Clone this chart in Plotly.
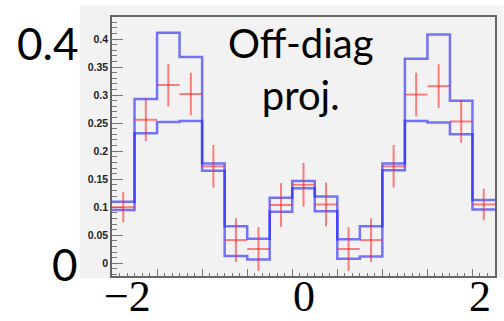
import plotly.graph_objects as go

# ---- data ----
n_bins = 17
x_min, x_max = -2.17, 2.17
band_upper = [0.110, 0.293, 0.411, 0.368, 0.178, 0.066, 0.044, 0.117, 0.147,
              0.119, 0.043, 0.066, 0.178, 0.365, 0.408, 0.290, 0.113]
band_lower = [0.095, 0.232, 0.252, 0.254, 0.165, 0.013, 0.007, 0.092, 0.134,
              0.093, 0.008, 0.012, 0.166, 0.254, 0.251, 0.230, 0.096]
data_vals = [0.100, 0.256, 0.318, 0.302, 0.173, 0.0415, 0.0255, 0.104, 0.140,
             0.105, 0.0255, 0.0415, 0.173, 0.301, 0.316, 0.253, 0.105]
data_errs = [0.027, 0.038, 0.038, 0.038, 0.038, 0.039, 0.039, 0.039, 0.039,
             0.039, 0.039, 0.039, 0.038, 0.039, 0.039, 0.038, 0.028]
big_x_ticks = [-2, 0, 2]
big_x_text = ["\u22122", "0", "2"]
big_y_ticks = [0.4, 0]
big_y_text = ["0.4", "0"]
title_text = "Off-diag<br>proj."

bw = (x_max - x_min) / n_bins
edges = [x_min + i * bw for i in range(n_bins + 1)]
centers = [x_min + (i + 0.5) * bw for i in range(n_bins)]

W, H = 504, 321
L, R, T, B = 111.5, 7.3, 16.7, 45
pw, ph = W - L - R, H - T - B

blue = "rgba(30,30,255,0.6)"
red = "rgba(255,30,30,0.55)"
gray_bg = "#f2f2f2"

fig = go.Figure()
for band in (band_upper, band_lower):
    fig.add_trace(go.Scatter(
        x=edges, y=band + [band[-1]], mode="lines", line_shape="hv",
        line=dict(color=blue, width=2.5), hoverinfo="skip", showlegend=False))

fig.add_trace(go.Scatter(
    x=centers, y=data_vals, mode="markers",
    marker=dict(size=1, color="rgba(0,0,0,0)"),
    error_y=dict(type="data", array=data_errs, width=0, thickness=2, color=red),
    error_x=dict(type="data", array=[bw / 2] * n_bins, width=0, thickness=2, color=red),
    showlegend=False))


def px_to_paper_x(px):
    return (px - L) / pw


def px_to_paper_y(py):
    return (H - B - py) / ph


# gray ROOT canvas panel
fig.add_shape(type="rect", xref="paper", yref="paper",
              x0=px_to_paper_x(79), x1=px_to_paper_x(505),
              y0=px_to_paper_y(278), y1=px_to_paper_y(5),
              fillcolor=gray_bg, line_width=0, layer="below")

annotations = []
for v, t in zip(big_x_ticks, big_x_text):
    annotations.append(dict(x=v, xref="x", y=px_to_paper_y(296.5), yref="paper",
                            text=t, showarrow=False, xanchor="center", yanchor="middle",
                            font=dict(family="Liberation Serif", size=44, color="black")))
for v, t, sh in zip(big_y_ticks, big_y_text, [-4, -1]):
    annotations.append(dict(x=px_to_paper_x(79), xref="paper", y=v, yref="y", yshift=sh,
                            text=t, showarrow=False, xanchor="right", yanchor="middle",
                            font=dict(family="Lato", size=44, color="black")))
annotations.append(dict(x=px_to_paper_x(301), xref="paper", y=px_to_paper_y(16.5), yref="paper",
                        text=title_text, showarrow=False, xanchor="center", yanchor="top",
                        font=dict(family="Lato", size=40, color="black")))

fig.update_layout(
    width=W, height=H,
    margin=dict(l=L, r=R, t=T, b=B, pad=0),
    paper_bgcolor="white", plot_bgcolor=gray_bg,
    annotations=annotations,
    xaxis=dict(range=[x_min, x_max], showgrid=False, zeroline=False,
               showline=True, linecolor="#666", linewidth=1.5, mirror=True,
               ticks="inside", tick0=x_min, dtick=2 * bw, ticklen=7, tickcolor="#777",
               tickwidth=1, showticklabels=False,
               minor=dict(ticks="inside", dtick=bw / 3, tick0=x_min, ticklen=3.5,
                          tickcolor="#777", tickwidth=1, showgrid=False)),
    yaxis=dict(range=[-0.0226, 0.4393], showgrid=False, zeroline=False,
               showline=True, linecolor="#666", linewidth=1.5, mirror=True,
               ticks="inside", tick0=0, dtick=0.05, ticklen=11, tickcolor="#777",
               tickwidth=1,
               tickfont=dict(family="Liberation Sans", size=10.5, color="#222", weight="bold"),
               minor=dict(ticks="inside", dtick=0.01, tick0=0, ticklen=5,
                          tickcolor="#777", tickwidth=1, showgrid=False)),
)

fig.write_html("out.html")
